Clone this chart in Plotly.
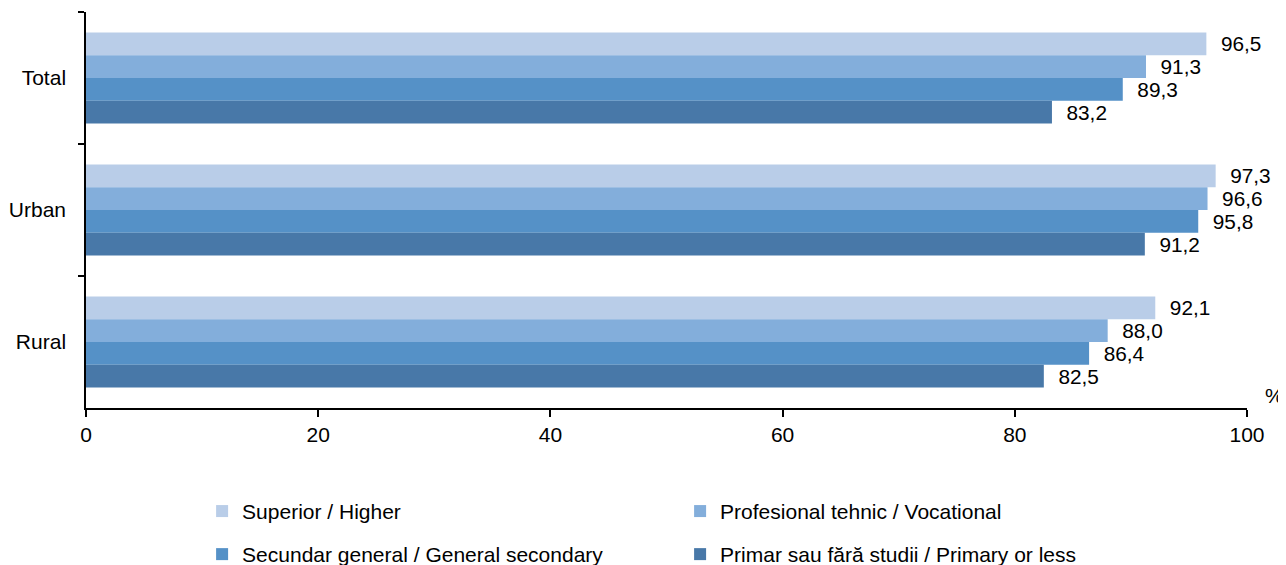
import plotly.graph_objects as go

categories = ["Total", "Urban", "Rural"]
series_names = [
    "Superior / Higher",
    "Profesional tehnic / Vocational",
    "Secundar general / General secondary",
    "Primar sau fără studii / Primary or less",
]
superior = [96.5, 97.3, 92.1]
vocational = [91.3, 96.6, 88.0]
secondary = [89.3, 95.8, 86.4]
primary = [83.2, 91.2, 82.5]
colors = ["#B9CDE8", "#83AEDB", "#5591C7", "#4878A8"]
x_ticks = [0, 20, 40, 60, 80, 100]

FONT = "Liberation Sans, Arial, sans-serif"
FS = 21
values = [superior, vocational, secondary, primary]
legends = ["legend", "legend", "legend2", "legend2"]

fig = go.Figure()
for name, vals, col, lg in zip(series_names, values, colors, legends):
    fig.add_trace(go.Bar(
        y=categories, x=vals, name=name, orientation="h",
        marker=dict(color=col, line=dict(width=0)),
        texttemplate="  %{x:.1f}", textposition="outside",
        textfont=dict(family=FONT, size=FS, color="black"),
        cliponaxis=False, legend=lg,
    ))

fig.update_layout(
    width=1278, height=557,
    barmode="group", bargap=0.31, bargroupgap=0,
    separators=",.",
    plot_bgcolor="white", paper_bgcolor="white",
    margin=dict(l=78, r=39, t=4, b=157, autoexpand=False),
    font=dict(family=FONT, size=FS, color="black"),
    xaxis=dict(range=[0, 100], tickvals=x_ticks, showgrid=False, zeroline=False,
               showline=True, linecolor="black", linewidth=1.5,
               ticks="outside", ticklen=7, tickcolor="black", tickwidth=1.5,
               tickfont=dict(size=FS), automargin=False),
    yaxis=dict(categoryorder="array", categoryarray=categories, autorange="reversed",
               showgrid=False, showline=True, linecolor="black", linewidth=1.5,
               ticks="outside", ticklen=6, tickcolor="black", tickwidth=1.5,
               tickson="boundaries", ticklabelstandoff=14, tickfont=dict(size=FS),
               automargin=False),
    legend=dict(orientation="h", x=0.100, y=0.133, xref="paper", yref="container",
                xanchor="left", yanchor="top",
                entrywidth=433, entrywidthmode="pixels", itemwidth=30,
                font=dict(size=FS), traceorder="normal"),
    legend2=dict(orientation="h", x=0.100, y=0.0557, xref="paper", yref="container",
                 xanchor="left", yanchor="top",
                 entrywidth=433, entrywidthmode="pixels", itemwidth=30,
                 font=dict(size=FS), traceorder="normal"),
    showlegend=True,
)
fig.add_annotation(text="%", xref="paper", yref="paper", x=1.0, y=0.0,
                   xshift=27, yshift=13, showarrow=False, xanchor="center", yanchor="middle",
                   font=dict(size=FS))

fig.write_html("out.html")
